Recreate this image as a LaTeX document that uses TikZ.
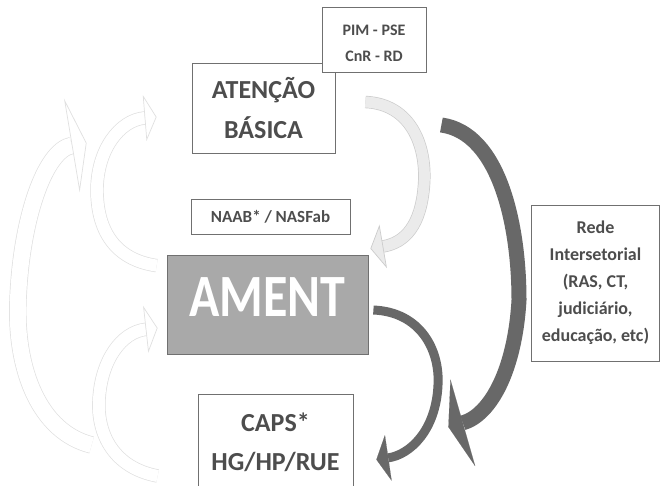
\documentclass[tikz,border=0pt]{standalone}
\usepackage{fontspec}
\setmainfont{Carlito}
\usetikzlibrary{arrows.meta,calc}

\definecolor{txtgray}{HTML}{4D4D4D}
\definecolor{linegray}{HTML}{707070}
\definecolor{amentgray}{HTML}{A9A9A9}
\definecolor{darkgray}{HTML}{686868}

\begin{document}
\begin{tikzpicture}[x=1pt,y=-1pt,
    box/.style={draw=linegray,line width=0.8pt,fill=white,text=txtgray,align=center,inner sep=0pt},
    dark arrow/.style={draw=darkgray,line width=#1},
    light arrow/.style={draw=gray!40,double=gray!16,double distance=#1,line width=0.7pt},
    pale arrow/.style={light arrow=#1,draw=gray!24,double=white}]

  \clip (0,0) rectangle (661,485);
  \fill[white] (0,0) rectangle (661,485);

  \node[box,minimum width=143pt,minimum height=90pt,font=\bfseries\fontsize{26}{40}\selectfont] (aten) at (263.5,108) {ATENÇÃO\\BÁSICA};
  \node[box,minimum width=104pt,minimum height=65pt,text height=44pt,font=\bfseries\fontsize{16}{26}\selectfont] (pim) at (374,39.5) {PIM - PSE\\CnR - RD};
  \node[box,minimum width=159pt,minimum height=35pt,font=\bfseries\fontsize{17}{20}\selectfont] (naab) at (270.5,216.5) {NAAB* / NASFab};
  \node[box,fill=amentgray,text=white,minimum width=201pt,minimum height=99pt,font=\bfseries\fontsize{50}{50}\selectfont] (ament) at (267.5,304.5) {\raisebox{7pt}[\height][\depth]{\scalebox{1}[1.2]{AMENT}}};
  \node[box,minimum width=155pt,minimum height=96pt,font=\bfseries\fontsize{26}{39}\selectfont] (caps) at (275.5,442) {CAPS*\\HG/HP/RUE};
  \node[box,minimum width=128pt,minimum height=156pt,font=\bfseries\fontsize{18}{27}\selectfont] (rede) at (595.5,283) {Rede\\Intersetorial\\(RAS, CT,\\judiciário,\\educação, etc)};

  % dark arrows
  \draw[dark arrow=15pt,-{Triangle[width=90pt,length=15pt,line width=0.1pt]}]
    ($(aten.east)+(106,17)$) .. controls +(58,8) and +(0,-75) .. (519,300)
    .. controls +(-4,70) and +(42,-12) .. ($(caps.east)+(95,-15)$);
  \draw[dark arrow=9pt,-{Triangle[width=46pt,length=12pt,line width=0.1pt]}]
    ($(ament.east)+(5,5.5)$) .. controls +(47,2) and +(2,-35) .. (438,385)
    .. controls +(-2,45) and +(34,-5) .. ($(caps.north east)+(23,66)$);

  % light arrows
  \draw[light arrow=11pt,-{Triangle[width=44pt,length=13pt,line width=0.7pt,fill=gray!16]}]
    ($(aten.east)+(30,-6)$) .. controls +(45,2) and +(3,-40) .. (424,185)
    .. controls +(-3,40) and +(35,-6) .. ($(ament.north east)+(2,-6)$);
  \draw[pale arrow=12pt,-{Triangle[width=46pt,length=12pt,line width=0.7pt,fill=white]}]
    ($(ament.north west)+(-10,11)$) .. controls +(-42,-6) and +(0,40) .. (97,190)
    .. controls +(0,-40) and +(-37,3) .. ($(aten.west)+(-35,9)$);
  \draw[pale arrow=12pt,-{Triangle[width=47pt,length=12pt,line width=0.7pt,fill=white]}]
    ($(caps.west)+(-40,34)$) .. controls +(-43,-8) and +(-2,35) .. (99,400)
    .. controls +(2,-40) and +(-36,4) .. ($(ament.west)+(-9,23.5)$);
  \draw[pale arrow=16pt,-{Triangle[width=95pt,length=15pt,line width=0.7pt,fill=white]}]
    ($(caps.west)+(-106,3)$) .. controls +(-52,-13) and +(-3,70) .. (18,300)
    .. controls +(3,-80) and +(-42,7) .. ($(aten.west)+(-105,35)$);
\end{tikzpicture}
\end{document}
